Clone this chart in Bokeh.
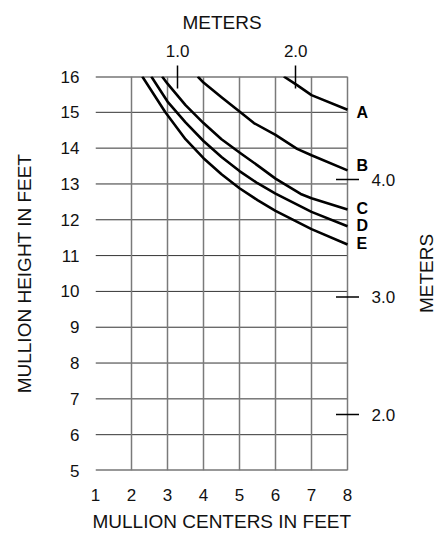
import math
from bokeh.plotting import figure
from bokeh.models import Range1d, LinearAxis, FixedTicker, PrintfTickFormatter, Title
from bokeh.core.properties import value
from bokeh.embed import file_html
from bokeh.resources import INLINE

FT_PER_M = 3.2808

# Curve data (mullion centers in feet, mullion height in feet)
A_x = [6.23, 6.6, 7.0, 8.0]
A_y = [16.0, 15.76, 15.48, 15.07]
B_x = [3.84, 4.0, 4.5, 5.0, 5.4, 6.0, 6.6, 7.0, 8.0]
B_y = [16.0, 15.83, 15.42, 15.02, 14.7, 14.37, 13.98, 13.8, 13.38]
C_x = [2.85, 3.0, 3.5, 4.0, 4.5, 5.0, 5.5, 6.0, 6.7, 7.0, 8.0]
C_y = [16.0, 15.8, 15.2, 14.7, 14.25, 13.88, 13.52, 13.15, 12.72, 12.6, 12.29]
D_x = [2.55, 3.0, 3.5, 4.0, 4.5, 5.0, 5.5, 6.0, 7.0, 8.0]
D_y = [16.0, 15.3, 14.72, 14.2, 13.75, 13.36, 13.02, 12.73, 12.22, 11.82]
E_x = [2.30, 2.94, 3.5, 4.0, 4.5, 5.0, 5.5, 6.0, 7.0, 8.0]
E_y = [16.0, 15.0, 14.25, 13.72, 13.27, 12.88, 12.55, 12.25, 11.74, 11.31]
curve_names = ["A", "B", "C", "D", "E"]

x_ticks_ft = [1, 2, 3, 4, 5, 6, 7, 8]
y_ticks_ft = [5, 6, 7, 8, 9, 10, 11, 12, 13, 14, 15, 16]
x_ticks_m = [1.0, 2.0]
y_ticks_m = [2.0, 3.0, 4.0]

FONT = "Liberation Sans"
FIG_W, FIG_H = 440, 538
LEFT, TOP, BOTTOM = 95, 75, 68
PX_PER_FT = 36.0
X0, X8 = x_ticks_ft[0], x_ticks_ft[-1]
Y0, Y1 = y_ticks_ft[0], y_ticks_ft[-1]
# the frame reaches the right edge of the figure so that the right-hand
# annotations (curve letters, metre scale) are drawn inside it
X_END = X0 + (FIG_W - LEFT) / PX_PER_FT

p = figure(width=FIG_W, height=FIG_H, output_backend="svg", toolbar_location=None,
           x_range=Range1d(X0, X_END), y_range=Range1d(Y0, Y1),
           min_border_left=LEFT, min_border_right=0, min_border_top=TOP, min_border_bottom=BOTTOM)
p.extra_x_ranges = {"m": Range1d(X0 / FT_PER_M, X_END / FT_PER_M)}
p.outline_line_color = None
p.background_fill_color = "white"
p.border_fill_color = "white"

# grid: vertical lines via the grid, horizontal lines limited to the chart area
p.xgrid.ticker = FixedTicker(ticks=x_ticks_ft)
p.xgrid.grid_line_color = "#7a7a7a"
p.xgrid.grid_line_width = 1.5
p.ygrid.grid_line_color = None
p.multi_line(xs=[[X0, X8] for _ in y_ticks_ft], ys=[[t, t] for t in y_ticks_ft],
             line_color="#333333", line_width=[2 if t in (Y0, Y1) else 1 for t in y_ticks_ft],
             level="underlay")

def style_axis(ax, tick_in=0, tick_out=0, standoff=10, title_standoff=10):
    ax.axis_line_color = None
    ax.minor_tick_line_color = None
    ax.major_tick_in = tick_in
    ax.major_tick_out = tick_out
    ax.major_tick_line_color = "black" if (tick_in or tick_out) else None
    ax.major_tick_line_width = 1.5
    ax.major_label_text_font = FONT
    ax.major_label_text_font_size = "17px"
    ax.major_label_text_color = "#111111"
    ax.major_label_standoff = standoff
    ax.axis_label_text_font = FONT
    ax.axis_label_text_font_size = "19px"
    ax.axis_label_text_font_style = "normal"
    ax.axis_label_text_color = "#111111"
    ax.axis_label_standoff = title_standoff

# bottom / left feet axes
p.xaxis.ticker = FixedTicker(ticks=x_ticks_ft)
p.yaxis.ticker = FixedTicker(ticks=y_ticks_ft)
p.yaxis.axis_label = "MULLION HEIGHT IN FEET"
style_axis(p.xaxis[0], standoff=18)
style_axis(p.yaxis[0], standoff=16, title_standoff=23)

# top metres axis
top = LinearAxis(x_range_name="m", ticker=FixedTicker(ticks=x_ticks_m),
                 formatter=PrintfTickFormatter(format="%.1f"))
style_axis(top, tick_in=12, tick_out=11, standoff=9)
p.add_layout(top, "above")

def side_title(text, offset, standoff):
    return Title(text=text, align="left", offset=offset, standoff=standoff,
                 text_font=FONT, text_font_size="19px", text_font_style="normal",
                 text_color="#111111")

p.add_layout(side_title("METERS", 87, 18), "above")
p.add_layout(side_title("MULLION CENTERS IN FEET", -3, 11), "below")

# curves
xs_all = [A_x, B_x, C_x, D_x, E_x]
ys_all = [A_y, B_y, C_y, D_y, E_y]
for xs, ys in zip(xs_all, ys_all):
    p.line(xs, ys, line_color="black", line_width=2.6, line_join="round")

# curve letters at the right-hand end of each curve
label_dy_px = [3, -5, -1, -1, -1]
p.text(x=[xs[-1] for xs in xs_all], y=[ys[-1] for ys in ys_all], text=curve_names,
       x_offset=9, y_offset=label_dy_px, text_baseline="middle", text_align="left",
       text_font=value(FONT), text_font_style="bold", text_font_size="16px",
       text_color="black")

# right-hand metre scale (ticks straddling the x = 8 ft edge)
m_y_ft = [m * FT_PER_M for m in y_ticks_m]
p.scatter(x=[X8] * len(m_y_ft), y=m_y_ft, marker="dash", size=23,
          line_color="black", line_width=1.5)
p.text(x=[X8] * len(m_y_ft), y=m_y_ft, text=[f"{m:.1f}" for m in y_ticks_m],
       x_offset=24, text_baseline="middle", text_align="left",
       text_font=value(FONT), text_font_size="17px", text_color="#111111")
p.text(x=[X8], y=[(Y0 + Y1) / 2.0], text=["METERS"], angle=math.pi / 2,
       x_offset=79, text_baseline="middle", text_align="center",
       text_font=value(FONT), text_font_size="19px", text_color="#111111")

open("out.html", "w").write(file_html(p, INLINE))
